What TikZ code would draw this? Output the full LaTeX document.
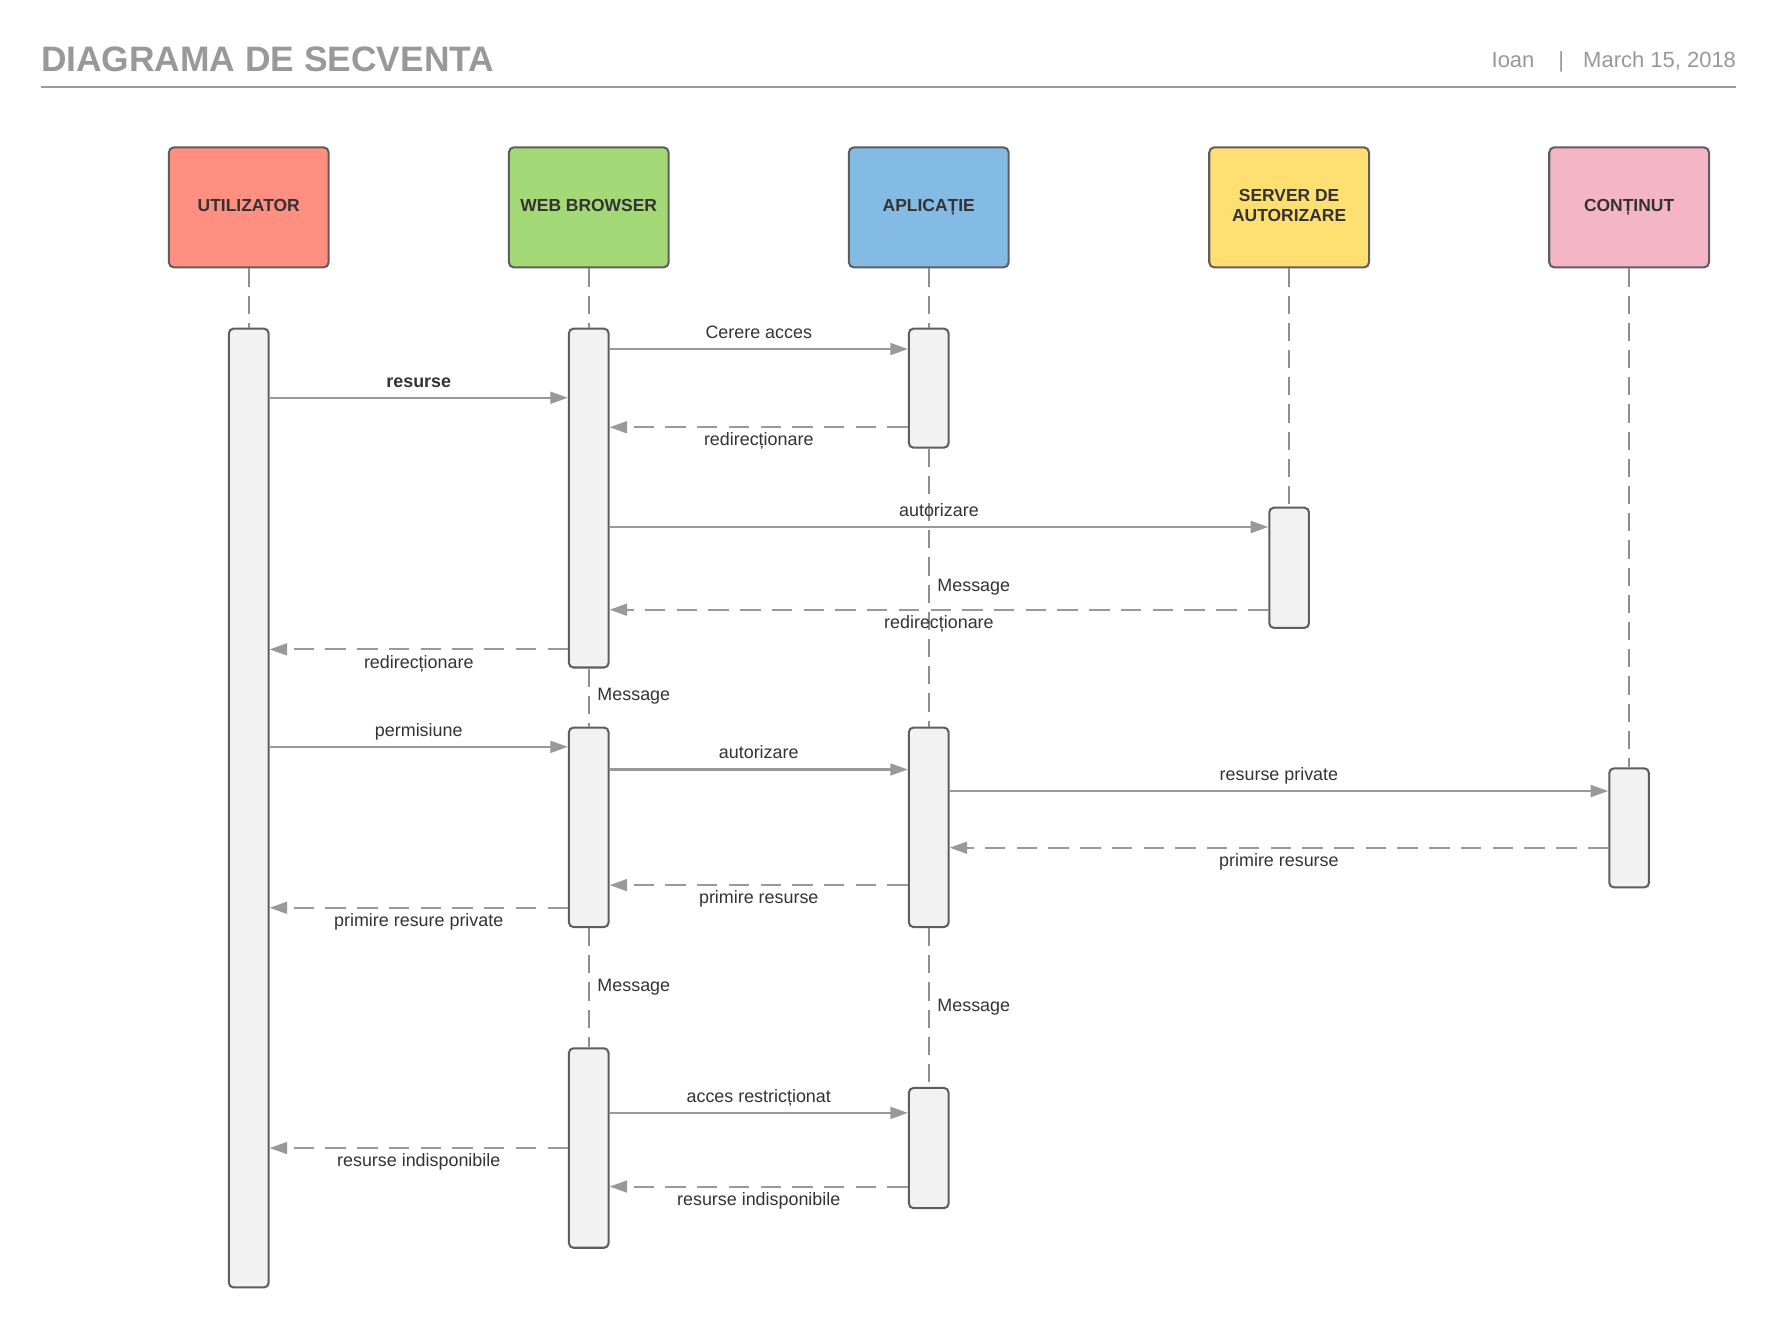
\documentclass[tikz,border=0pt]{standalone}
\usepackage{fontspec}
\setmainfont{Liberation Sans}
\usetikzlibrary{arrows.meta}

\definecolor{titlegray}{HTML}{999999}
\definecolor{rulegray}{HTML}{9A9A9A}
\definecolor{boxline}{HTML}{5E5E5E}
\definecolor{boxtext}{HTML}{333333}
\definecolor{barfill}{HTML}{F2F2F2}
\definecolor{lifegray}{HTML}{8F8F8F}
\definecolor{arrowgray}{HTML}{999999}
\definecolor{labeltext}{HTML}{333333}
\definecolor{ured}{HTML}{FF8F80}
\definecolor{wgreen}{HTML}{A3D977}
\definecolor{ablue}{HTML}{83BBE5}
\definecolor{syellow}{HTML}{FFDF71}
\definecolor{cpink}{HTML}{F4B5C7}

\begin{document}
\begin{tikzpicture}[x=1pt,y=-1pt,
  actor/.style={draw=boxline, line width=1.8pt, rounded corners=4.5pt,
    minimum width=141pt, minimum height=106pt, inner sep=0pt, align=center,
    text=boxtext, font=\fontsize{15.4}{18}\selectfont\bfseries, text depth=4pt},
  bar/.style={draw=boxline, line width=1.8pt, fill=barfill, rounded corners=4pt,
    minimum width=35pt, inner sep=0pt},
  life/.style={draw=lifegray, line width=1.5pt, dash pattern=on 16pt off 8pt},
  msg/.style={draw=arrowgray, line width=1.8pt,
    -{Triangle[length=15.5pt,width=10.5pt]}},
  reply/.style={msg, dash pattern=on 18pt off 10pt},
  lbl/.style={font=\fontsize{15.8}{18}\selectfont, text=labeltext,
    anchor=base, inner sep=0pt},
  lblup/.style={lbl, yshift=9.5pt},
  lbldown/.style={lbl, yshift=-16.5pt},
  msglbl/.style={font=\fontsize{15.8}{18}\selectfont, text=labeltext,
    anchor=base west, inner sep=0pt},
  hdr/.style={font=\fontsize{19.4}{22}\selectfont, text=titlegray, inner sep=0pt},
]
% page
\path[fill=white, use as bounding box] (0,0) rectangle (1568,1172);

% header
\node[font=\fontsize{31.2}{36}\selectfont\bfseries, text=titlegray,
  anchor=base west, inner sep=0pt] (title) at (36,63) {DIAGRAMA DE SECVENTA};
\node[hdr, anchor=base west] (author) at (1316,60) {Ioan};
\node[hdr, anchor=base] (sep) at (1377.5,60) {|};
\node[hdr, anchor=base east] (date) at (1532,60) {March 15, 2018};
\draw[rulegray, line width=1.8pt] (36,77) -- (1532,77);

% participants
\node[actor, fill=ured]    (u) at (219.5,183)  {UTILIZATOR};
\node[actor, fill=wgreen]  (w) at (519.5,183)  {WEB BROWSER};
\node[actor, fill=ablue]   (a) at (819.5,183)  {APLICAȚIE};
\node[actor, fill=syellow] (s) at (1137.5,183) {SERVER DE\\AUTORIZARE};
\node[actor, fill=cpink]   (c) at (1437.5,183) {CONȚINUT};

% activation bars
\node[bar, minimum height=846pt] (u1) at (219.5,713)   {};
\node[bar, minimum height=299pt] (w1) at (519.5,439.5) {};
\node[bar, minimum height=176pt] (w2) at (519.5,730)   {};
\node[bar, minimum height=176pt] (w3) at (519.5,1013)  {};
\node[bar, minimum height=105pt] (a1) at (819.5,342.5) {};
\node[bar, minimum height=176pt] (a2) at (819.5,730)   {};
\node[bar, minimum height=106pt] (a3) at (819.5,1013)  {};
\node[bar, minimum height=106pt] (s1) at (1137.5,501)  {};
\node[bar, minimum height=105pt] (c1) at (1437.5,730.5){};

% lifelines
\draw[life] (u.south) -- (u1.north);
\draw[life] (w.south) -- (w1.north);
\draw[life] (w1.south) -- (w2.north);
\draw[life] (w2.south) -- (w3.north);
\draw[life] (a.south) -- (a1.north);
\draw[life] (a1.south) -- (a2.north);
\draw[life] (a2.south) -- (a3.north);
\draw[life] (s.south) -- (s1.north);
\draw[life] (c.south) -- (c1.north);

% lifeline labels
\node[msglbl] (m1) at (827,521.5) {Message};
\node[msglbl] (m2) at (527,618.5) {Message};
\node[msglbl] (m3) at (527,874.5) {Message};
\node[msglbl] (m4) at (827,892.5) {Message};

% messages
\draw[msg] (w1.east |- 0,308) -- node[lblup] {Cerere acces} (a1.west |- 0,308);
\draw[msg] (u1.east |- 0,351) -- node[lblup] {\bfseries resurse} (w1.west |- 0,351);
\draw[reply] (a1.west |- 0,377) -- node[lbldown] {redirecționare} (w1.east |- 0,377);
\draw[msg] (w1.east |- 0,465) -- node[lblup] {autorizare} (s1.west |- 0,465);
\draw[reply] (s1.west |- 0,538) -- node[lbldown] {redirecționare} (w1.east |- 0,538);
\draw[reply] (w1.west |- 0,573) -- node[lbldown] {redirecționare} (u1.east |- 0,573);
\draw[msg] (u1.east |- 0,659) -- node[lblup] {permisiune} (w2.west |- 0,659);
\draw[msg] (w2.east |- 0,679) -- node[lblup] {autorizare} (a2.west |- 0,679);
\draw[msg] (a2.east |- 0,698) -- node[lblup] {resurse private} (c1.west |- 0,698);
\draw[reply] (c1.west |- 0,748) -- node[lbldown] {primire resurse} (a2.east |- 0,748);
\draw[reply] (a2.west |- 0,781) -- node[lbldown] {primire resurse} (w2.east |- 0,781);
\draw[reply] (w2.west |- 0,801) -- node[lbldown] {primire resure private} (u1.east |- 0,801);
\draw[msg] (w3.east |- 0,982) -- node[lblup] {acces restricționat} (a3.west |- 0,982);
\draw[reply] (w3.west |- 0,1013) -- node[lbldown] {resurse indisponibile} (u1.east |- 0,1013);
\draw[reply] (a3.west |- 0,1047) -- node[lbldown] {resurse indisponibile} (w3.east |- 0,1047);
\end{tikzpicture}
\end{document}
